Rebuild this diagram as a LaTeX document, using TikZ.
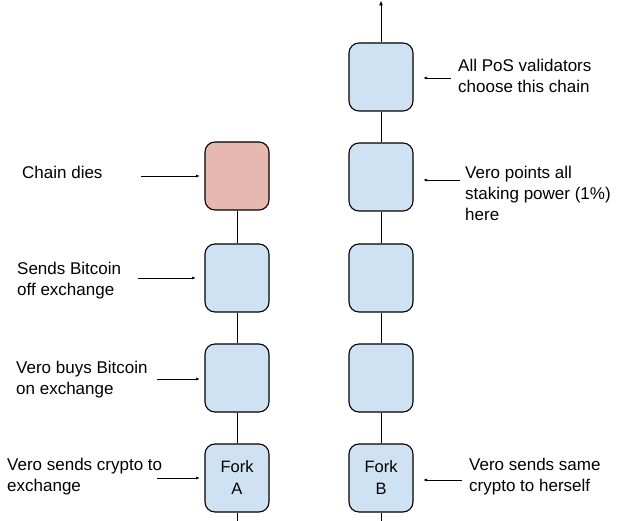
\documentclass[tikz,border=0pt]{standalone}
\usepackage{fontspec}
\setmainfont{Liberation Sans}
\usetikzlibrary{arrows.meta}
\definecolor{blk}{HTML}{CFE2F3}
\definecolor{redblk}{HTML}{E6B8AF}
\tikzset{
  block/.style={draw=black, line width=1.1pt, rounded corners=10pt, minimum width=64pt, minimum height=68pt, inner sep=0pt, fill=blk, align=center, font=\fontsize{16.5}{22}\selectfont},
  deadblock/.style={block, fill=redblk},
  link/.style={draw=black, line width=0.8pt},
  ann/.style={draw=black, line width=0.8pt, -{Latex[length=4pt,width=3pt]}},
  lbl/.style={anchor=west, align=left, inner sep=0pt, font=\fontsize{17}{21}\selectfont}
}
\begin{document}
\begin{tikzpicture}[x=1pt,y=-1pt]
\useasboundingbox (0,0) rectangle (624,521);
% left chain
\node[deadblock] (a4) at (237,176) {};
\node[block] (a3) at (237,278) {};
\node[block] (a2) at (237,378) {};
\node[block] (a1) at (237,478) {Fork\\A};
\coordinate (abot) at (237,521);
% right chain
\node[block] (b5) at (381,77) {};
\node[block] (b4) at (381,177) {};
\node[block] (b3) at (381,278) {};
\node[block] (b2) at (381,378) {};
\node[block] (b1) at (381,478) {Fork\\B};
\coordinate (btop) at (381,0.5);
\coordinate (bbot) at (381,521);
% chain links
\draw[link] (a4) -- (a3) (a3) -- (a2) (a2) -- (a1) (a1) -- (abot);
\draw[link] (b1) -- (b2) (b2) -- (b3) (b3) -- (b4) (b4) -- (b5) (b1) -- (bbot);
\draw[link, -{Latex[length=5pt,width=4pt]}] (b5) -- (btop);
% labels left
\node[lbl] (t1) at (22,172) {Chain dies};
\node[lbl] (t2) at (17,281) {Sends Bitcoin\\off exchange};
\node[lbl] (t3) at (16,380) {Vero buys Bitcoin\\on exchange};
\node[lbl] (t4) at (7,477) {Vero sends crypto to\\exchange};
% labels right
\node[lbl] (r1) at (458,76) {All PoS validators\\choose this chain};
\node[lbl] (r2) at (465,193) {Vero points all\\staking power (1\%)\\here};
\node[lbl] (r3) at (469,477) {Vero sends same\\crypto to herself};
% annotation arrows
\coordinate (s1) at (141,176); \coordinate (e1) at (200,176);
\coordinate (s2) at (138,278); \coordinate (e2) at (196,278);
\coordinate (s3) at (157,379); \coordinate (e3) at (200,379);
\coordinate (s4) at (157,478); \coordinate (e4) at (200,478);
\coordinate (s5) at (451,78); \coordinate (e5) at (423,78);
\coordinate (s6) at (460,180); \coordinate (e6) at (423,180);
\coordinate (s7) at (462,480); \coordinate (e7) at (423,480);
\draw[ann] (s1) -- (e1);
\draw[ann] (s2) -- (e2);
\draw[ann] (s3) -- (e3);
\draw[ann] (s4) -- (e4);
\draw[ann] (s5) -- (e5);
\draw[ann] (s6) -- (e6);
\draw[ann] (s7) -- (e7);
\end{tikzpicture}
\end{document}
